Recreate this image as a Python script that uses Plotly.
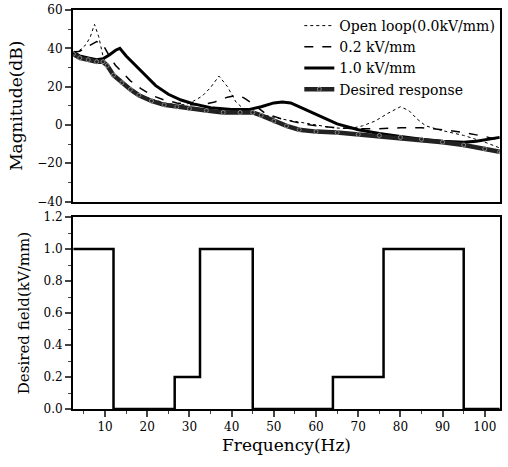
import plotly.graph_objects as go
from plotly.subplots import make_subplots

# ---------------- data ----------------
freq_open = [2.5, 4, 5.5, 6.5, 7.5, 8.5, 9.5, 10.5, 12, 15, 18, 21, 25, 29, 31, 33, 35,
             37, 39, 41, 43, 45, 48, 52, 56, 60, 64, 68, 71, 74, 77, 80, 82, 84, 86,
             90, 95, 100, 103.5]
mag_open = [38, 39, 42, 46, 52.5, 46, 36, 30, 26, 20, 16, 13.5, 11, 10.5, 12.5, 15, 19.5,
            25.5, 20, 12, 8, 6.5, 5, 3, 1.5, 0, -1.5, -2, -0.5, 2, 6, 9.5, 7.5, 3, -0.5,
            -3, -5.5, -9, -12]

freq_02 = [2.5, 4, 6, 8, 9.5, 11, 12.5, 14, 16, 18.5, 21, 24, 27, 30, 33, 36, 39, 41.5,
           43, 45, 48, 52, 56, 60, 65, 70, 75, 80, 85, 90, 95, 100, 103.5]
mag_02 = [38, 38.5, 41, 43.5, 42, 36, 31, 27.5, 23, 19, 15.5, 13, 11.5, 10.5, 10.5, 12,
          14.5, 15.5, 14, 11, 6, 3, 1, -0.5, -1.5, -2, -2, -1.5, -1.5, -2.5, -4, -6, -8]

freq_10 = [2.5, 4, 6, 8, 9.5, 11, 12.5, 13.5, 15, 17.5, 20, 22, 25, 28, 31, 35, 40, 44,
           47, 50, 52, 54, 57, 60, 65, 70, 75, 80, 85, 90, 95, 98, 101, 103.5]
mag_10 = [38, 36, 35, 34, 34.5, 36.5, 39, 40, 36, 30.5, 24.5, 20.5, 16, 13, 11, 9, 8, 8,
          9.5, 11.5, 12, 11.5, 8.5, 5.5, 0.5, -2.5, -4.5, -6, -7.5, -8.5, -9, -8.5, -7.5,
          -6.5]

freq_des = [2.5, 4, 6, 8, 9.5, 10.5, 12, 14, 16, 18, 21, 24, 27, 30, 34, 38, 42, 45, 47,
            50, 53, 56, 60, 65, 70, 75, 80, 85, 90, 95, 100, 103.5]
mag_des = [37, 35, 34, 33, 33, 31, 26, 22, 18.5, 15.5, 12.5, 10.5, 9.5, 8.5, 7.5, 6.5,
           6.5, 6.5, 5, 2, -0.5, -2.5, -3.5, -4, -5, -5.5, -6.5, -7.5, -9, -10.5, -12.5,
           -14]

field_freq = [2.5, 12, 26.5, 32.5, 45, 64, 76, 95, 103.5]
field_val = [1.0, 0.0, 0.2, 1.0, 0.0, 0.2, 1.0, 0.0, 0.0]

series_names = ["Open loop(0.0kV/mm)", "0.2 kV/mm", "1.0 kV/mm", "Desired response"]

# ---------------- figure ----------------
FONT = "DejaVu Serif"
fig = make_subplots(rows=2, cols=1)

fig.add_trace(go.Scatter(x=freq_open, y=mag_open, mode="lines", name=series_names[0],
                         line=dict(color="black", width=1, dash="dot")), row=1, col=1)
fig.add_trace(go.Scatter(x=freq_02, y=mag_02, mode="lines", name=series_names[1],
                         line=dict(color="black", width=1.5, dash="dash")), row=1, col=1)
fig.add_trace(go.Scatter(x=freq_10, y=mag_10, mode="lines", name=series_names[2],
                         line=dict(color="black", width=3)), row=1, col=1)
fig.add_trace(go.Scatter(x=freq_des, y=mag_des, mode="lines+markers", name=series_names[3],
                         line=dict(color="#222222", width=4.5),
                         marker=dict(symbol="circle-open", size=4,
                                     color="#888888", line=dict(width=1))), row=1, col=1)

fig.add_trace(go.Scatter(x=field_freq, y=field_val, mode="lines", line_shape="hv",
                         showlegend=False, line=dict(color="black", width=2.5)),
              row=2, col=1)

xr = [2.4, 103.6]
axis_common = dict(showline=True, linecolor="black", linewidth=2, mirror=True,
                   showgrid=False, zeroline=False, automargin=False,
                   tickfont=dict(family=FONT, size=12, color="black"))

fig.update_layout(
    width=508, height=467,
    margin=dict(l=73, r=8, t=10, b=58, autoexpand=False),
    paper_bgcolor="white", plot_bgcolor="white",
    font=dict(family=FONT, color="black"),
    showlegend=True,
    legend=dict(x=0.53, y=1.0, xanchor="left", yanchor="top",
                bgcolor="rgba(0,0,0,0)", borderwidth=0,
                font=dict(family=FONT, size=14, color="black")),
    xaxis=dict(domain=[0, 1], range=xr, showticklabels=False, ticks="", **axis_common),
    yaxis=dict(domain=[0.52, 1], range=[-40, 60], dtick=20, tick0=0,
               ticks="outside", ticklen=6, tickwidth=1.5,
               minor=dict(dtick=10, ticks="outside", ticklen=3, tickwidth=1.2),
               title=dict(text="Magnitude(dB)", font=dict(family=FONT, size=17),
                          standoff=10),
               **axis_common),
    xaxis2=dict(domain=[0, 1], range=xr, dtick=10, tick0=0,
                ticks="outside", ticklen=6, tickwidth=1.5,
                minor=dict(dtick=5, ticks="outside", ticklen=3, tickwidth=1.2),
                title=dict(text="Frequency(Hz)", font=dict(family=FONT, size=17),
                           standoff=6),
                **axis_common),
    yaxis2=dict(domain=[0, 0.481], range=[0, 1.2], dtick=0.2, tick0=0,
                tickformat=".1f",
                ticks="outside", ticklen=6, tickwidth=1.5,
                minor=dict(dtick=0.1, ticks="outside", ticklen=3, tickwidth=1.2),
                title=dict(text="Desired field(kV/mm)", font=dict(family=FONT, size=15),
                           standoff=10),
                **axis_common),
)

fig.write_html("out.html", config={"displayModeBar": False},
               post_script="document.body.style.margin='0';")
